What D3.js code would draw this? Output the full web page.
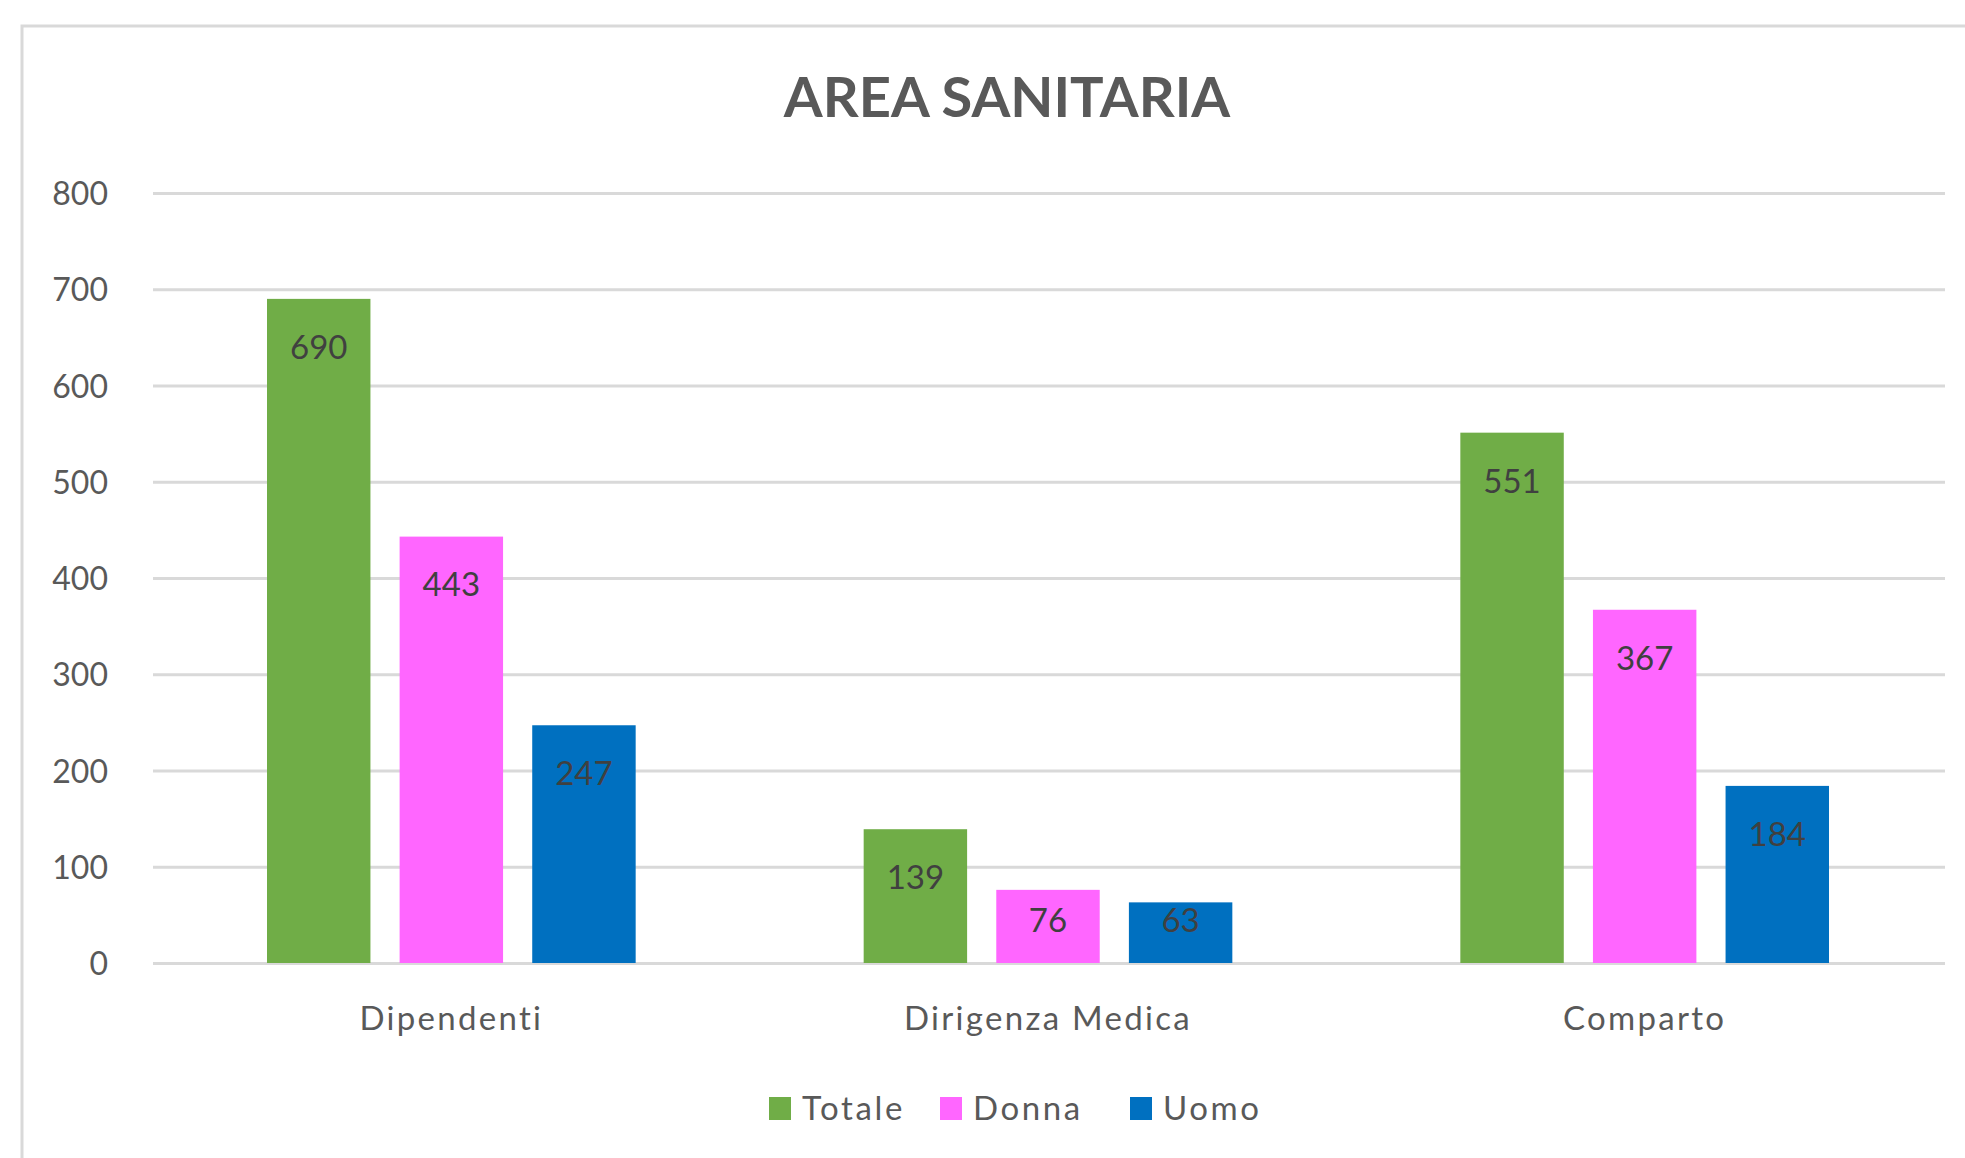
<!DOCTYPE html>
<html>
<head>
<meta charset="utf-8">
<script src="https://cdn.jsdelivr.net/npm/d3@7"></script>
<style>
  body { margin: 0; background: #fff; }
  text { font-family: Lato, "Open Sans", sans-serif; }
</style>
</head>
<body>
<div id="chart"></div>
<script>
var categories = ["Dipendenti", "Dirigenza Medica", "Comparto"];
var series = ["Totale", "Donna", "Uomo"];
var totale = [690, 139, 551];
var donna = [443, 76, 367];
var uomo = [247, 63, 184];
var colors = ["#70AD47", "#FF66FF", "#0070C0"];
var yTicks = [0, 100, 200, 300, 400, 500, 600, 700, 800];

var values = [totale, donna, uomo];
var rows = [];
categories.forEach(function(c, i) {
    series.forEach(function(s, j) {
        rows.push({ cat: c, ser: s, value: values[j][i] });
    });
});

var width = 1965, height = 1158;
var plot = { left: 153, right: 1945, top: 193, bottom: 963 };

var svg = d3.select("#chart").append("svg")
    .attr("width", width)
    .attr("height", height);

// outer frame (right and bottom edges fall outside the picture)
svg.append("rect")
    .attr("x", 22).attr("y", 26)
    .attr("width", 2100).attr("height", 1300)
    .attr("fill", "#fff")
    .attr("stroke", "#D9D9D9")
    .attr("stroke-width", 3);

svg.append("text")
    .attr("x", 1007).attr("y", 117)
    .attr("text-anchor", "middle")
    .attr("fill", "#595959")
    .style("font-size", "56px")
    .style("font-weight", "bold")
    .text("AREA SANITARIA");

var y = d3.scaleLinear().domain([0, 800]).range([plot.bottom, plot.top]);

var x0 = d3.scaleBand()
    .domain(categories)
    .range([153, 1943]);

var x1 = d3.scaleBand()
    .domain(series)
    .range([114, x0.bandwidth() - 114])
    .paddingInner(0.22);

var color = d3.scaleOrdinal().domain(series).range(colors);

var yAxis = svg.append("g")
    .attr("transform", "translate(" + plot.left + ",0)")
    .call(d3.axisLeft(y).tickValues(yTicks).tickSize(-(plot.right - plot.left)).tickPadding(45));
yAxis.select(".domain").remove();
yAxis.selectAll("line").attr("stroke", "#D9D9D9").attr("stroke-width", 3);
yAxis.selectAll("text")
    .attr("fill", "#595959")
    .attr("dy", "0.36em")
    .style("font-size", "32px");

var xAxis = svg.append("g")
    .attr("transform", "translate(0," + plot.bottom + ")")
    .call(d3.axisBottom(x0).tickSize(0).tickPadding(44));
xAxis.select(".domain").remove();
xAxis.selectAll("text")
    .attr("fill", "#595959")
    .style("font-size", "33px")
    .style("letter-spacing", "2.3px");

svg.append("g").selectAll("rect")
    .data(rows)
    .enter().append("rect")
    .attr("x", function(d) { return x0(d.cat) + x1(d.ser); })
    .attr("y", function(d) { return y(d.value); })
    .attr("width", x1.bandwidth())
    .attr("height", function(d) { return y(0) - y(d.value); })
    .attr("fill", function(d) { return color(d.ser); });

svg.append("g").selectAll("text")
    .data(rows)
    .enter().append("text")
    .attr("x", function(d) { return x0(d.cat) + x1(d.ser) + x1.bandwidth() / 2; })
    .attr("y", function(d) { return Math.min(y(d.value) + 48, y(0) - 43); })
    .attr("dy", "0.36em")
    .attr("text-anchor", "middle")
    .attr("fill", "#404040")
    .style("font-size", "33px")
    .text(function(d) { return d.value; });

// legend
var legendX = [769, 940, 1130];
var legend = svg.append("g").selectAll("g")
    .data(series)
    .enter().append("g")
    .attr("transform", function(d, i) { return "translate(" + legendX[i] + ",1097)"; });
legend.append("rect")
    .attr("width", 22).attr("height", 23)
    .attr("fill", function(d) { return color(d); });
legend.append("text")
    .attr("x", 33).attr("y", 23)
    .attr("fill", "#595959")
    .style("font-size", "33px")
    .style("letter-spacing", "2.6px")
    .text(function(d) { return d; });
</script>
</body>
</html>
